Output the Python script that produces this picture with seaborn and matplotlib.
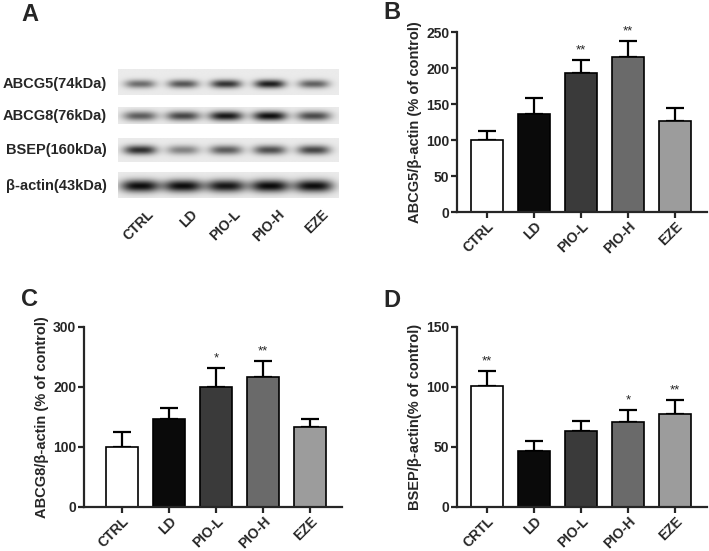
import matplotlib

matplotlib.use("Agg")
import matplotlib.pyplot as plt
import numpy as np
import pandas as pd
import seaborn as sns

GROUPS = ["CTRL", "LD", "PIO-L", "PIO-H", "EZE"]
GROUPS_D = ["CRTL", "LD", "PIO-L", "PIO-H", "EZE"]
BAR_COLORS = ["#ffffff", "#0a0a0a", "#3a3a3a", "#6a6a6a", "#9c9c9c"]

# panel B: ABCG5 / beta-actin
abcg5_mean = [100, 136.5, 193, 215, 126.5]
abcg5_sem = [12.5, 22.5, 18.5, 22, 17.5]
abcg5_stars = ["", "", "**", "**", ""]

# panel C: ABCG8 / beta-actin
abcg8_mean = [100.5, 146, 199.5, 217, 134]
abcg8_sem = [25, 19, 32, 27, 12]
abcg8_stars = ["", "", "*", "**", ""]

# panel D: BSEP / beta-actin
bsep_mean = [100.6, 47, 63.5, 70.7, 77.3]
bsep_sem = [12.5, 8, 8, 10, 12]
bsep_stars = ["**", "", "", "*", "**"]

# panel A: western blot band darkness (0 = none, 1 = black)
BLOT_ROWS = ["ABCG5(74kDa)", "ABCG8(76kDa)", "BSEP(160kDa)", "β-actin(43kDa)"]
band_abcg5 = [0.55, 0.65, 0.8, 0.9, 0.6]
band_abcg8 = [0.62, 0.72, 0.92, 0.96, 0.7]
band_bsep = [0.82, 0.45, 0.62, 0.68, 0.72]
band_actin = [0.97, 0.97, 0.93, 0.98, 0.97]

sns.set_theme(style="ticks")
plt.rcParams["font.family"] = ["Liberation Sans", "DejaVu Sans"]
plt.rcParams["font.weight"] = "bold"
plt.rcParams["axes.labelweight"] = "bold"

W, H = 709, 551
fig = plt.figure(figsize=(W / 100, H / 100), dpi=100)
fig.patch.set_facecolor("white")


def px_rect(x0, y0, x1, y1):
    return [x0 / W, 1 - y1 / H, (x1 - x0) / W, (y1 - y0) / H]


def bar_panel(rect, xlim, names, mean, sem, stars, ymax, ystep, ylabel):
    ax = fig.add_axes(rect)
    df = pd.DataFrame({"group": names, "value": mean})
    sns.barplot(data=df, x="group", y="value", hue="group", palette=BAR_COLORS,
                edgecolor="black", linewidth=1.2, width=0.68, errorbar=None,
                legend=False, ax=ax, zorder=2)
    xs = np.arange(len(names))
    ax.errorbar(xs, mean, yerr=[np.zeros(len(sem)), sem], fmt="none", ecolor="black",
                elinewidth=1.6, capsize=6.5, capthick=1.6, zorder=1)
    for x, m, s, st in zip(xs, mean, sem, stars):
        if st:
            ax.annotate(st, xy=(x, m + s), xytext=(0, 2.5), textcoords="offset points",
                        ha="center", va="bottom", fontsize=9.5, fontweight="normal")
    ax.set_xlim(*xlim)
    ax.set_ylim(0, ymax)
    ax.set_yticks(np.arange(0, ymax + 1, ystep))
    ax.set_xlabel("")
    ax.set_ylabel(ylabel, fontsize=10.5, fontweight="bold", labelpad=3)
    sns.despine(ax=ax)
    for side in ["left", "bottom"]:
        ax.spines[side].set_linewidth(1.6)
    ax.tick_params(axis="both", length=4, width=1.6, labelsize=10, pad=1.5)
    ax.set_xticks(xs)
    ax.set_xticklabels(names, rotation=45, ha="right", rotation_mode="anchor",
                       fontweight="bold")
    for lab in ax.get_yticklabels():
        lab.set_fontweight("bold")
    ax.set_facecolor("none")
    return ax


bar_panel(px_rect(457, 32, 707, 212), (-0.64, 4.68), GROUPS, abcg5_mean, abcg5_sem,
          abcg5_stars, 250, 50, "ABCG5/β-actin (% of control)")
bar_panel(px_rect(84, 327, 342, 507), (-0.81, 4.68), GROUPS, abcg8_mean, abcg8_sem,
          abcg8_stars, 300, 100, "ABCG8/β-actin (% of control)")
bar_panel(px_rect(457, 327, 707, 507), (-0.64, 4.68), GROUPS_D, bsep_mean, bsep_sem,
          bsep_stars, 150, 50, "BSEP/β-actin(% of control)")

# panel A: blot drawn in pixel coordinates
axa = fig.add_axes([0, 0, 1, 1], zorder=-1)
axa.set_xlim(0, W)
axa.set_ylim(H, 0)
axa.axis("off")

lane_x = [140, 183, 226, 270, 314]
strip_y = [(69, 95), (107, 124), (138, 162), (172, 198)]
band_cy = [84, 116, 150, 186]
band_hw = [15.5, 17, 16.5, 19.5]
band_hh = [4.3, 4.8, 4.8, 6.3]
bands = [band_abcg5, band_abcg8, band_bsep, band_actin]
sx0, sx1 = 118, 339

for (y0, y1), cy, hw, hh, dark in zip(strip_y, band_cy, band_hw, band_hh, bands):
    gx = np.linspace(sx0, sx1, 300)
    gy = np.linspace(y0, y1, 60)
    X, Y = np.meshgrid(gx, gy)
    img = np.full(X.shape, 0.92)
    for lx, d in zip(lane_x, dark):
        prof = np.exp(-np.abs((X - lx) / hw) ** 3) * np.exp(-((Y - cy) / hh) ** 2)
        img -= d * prof * 0.9
    axa.imshow(np.clip(img, 0, 1), cmap="gray", vmin=0, vmax=1,
               extent=(sx0, sx1, y1, y0), aspect="auto", interpolation="bilinear")

for name, cy in zip(BLOT_ROWS, band_cy):
    axa.text(107, cy, name, ha="right", va="center", fontsize=10.5, fontweight="bold")

for lx, g in zip(lane_x, GROUPS):
    axa.text(lx + 7, 207, g, rotation=45, ha="right", va="top", rotation_mode="anchor",
             fontsize=10, fontweight="bold")

for letter, x, y in [("A", 21, 3), ("B", 383, 1), ("C", 21, 288), ("D", 383, 289)]:
    fig.text(x / W, 1 - y / H, letter, ha="left", va="top", fontsize=17, fontweight="bold")

fig.savefig("out.png", dpi=100, facecolor="white")
